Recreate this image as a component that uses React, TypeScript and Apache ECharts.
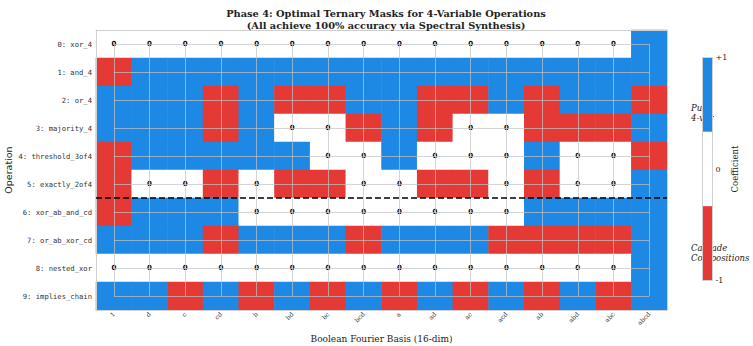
import React, { useEffect, useRef } from 'react';
import * as echarts from 'echarts';

const operations = [
  '0: xor_4',
  '1: and_4',
  '2: or_4',
  '3: majority_4',
  '4: threshold_3of4',
  '5: exactly_2of4',
  '6: xor_ab_and_cd',
  '7: or_ab_xor_cd',
  '8: nested_xor',
  '9: implies_chain',
];

const basis = ['1', 'd', 'c', 'cd', 'b', 'bd', 'bc', 'bcd', 'a', 'ad', 'ac', 'acd', 'ab', 'abd', 'abc', 'abcd'];

const xor4 = [0, 0, 0, 0, 0, 0, 0, 0, 0, 0, 0, 0, 0, 0, 0, 1];
const and4 = [-1, 1, 1, 1, 1, 1, 1, 1, 1, 1, 1, 1, 1, 1, 1, 1];
const or4 = [1, 1, 1, -1, 1, -1, -1, 1, 1, -1, -1, 1, -1, 1, 1, -1];
const majority4 = [1, 1, 1, -1, 1, 0, 0, -1, 1, -1, 0, 0, -1, -1, -1, 1];
const threshold3of4 = [-1, 1, 1, 1, 1, 1, 0, 0, 1, 0, 0, 0, 1, 0, 0, -1];
const exactly2of4 = [-1, 0, 0, -1, 0, -1, -1, 0, 0, -1, -1, 0, -1, 0, 0, 1];
const xorAbAndCd = [-1, 1, 1, 1, 0, 0, 0, 0, 0, 0, 0, 0, 1, 1, 1, 1];
const orAbXorCd = [1, 1, 1, -1, 1, 1, 1, -1, 1, 1, 1, -1, -1, -1, -1, 1];
const nestedXor = [0, 0, 0, 0, 0, 0, 0, 0, 0, 0, 0, 0, 0, 0, 0, 1];
const impliesChain = [1, 1, -1, 1, -1, 1, -1, 1, -1, 1, -1, 1, -1, 1, -1, 1];

const masks = [xor4, and4, or4, majority4, threshold3of4, exactly2of4, xorAbAndCd, orAbXorCd, nestedXor, impliesChain];

const separatorAfterRow = 5.5;
const colorbarTicks = ['+1', '0', '-1'];

const titleText = 'Phase 4: Optimal Ternary Masks for 4-Variable Operations\n(All achieve 100% accuracy via Spectral Synthesis)';

const BLUE = '#1E88E5';
const RED = '#E53935';

export default function App() {
  const ref = useRef<HTMLDivElement>(null);

  useEffect(() => {
    const chart = echarts.init(ref.current!, null, { renderer: 'svg' });
    const data: number[][] = [];
    masks.forEach((row, r) => row.forEach((v, c) => data.push([c, r, v])));

    const L = 96, R = 667, T = 30, B = 310;
    const W = 753, H = 346;
    const cw = (R - L) / basis.length;
    const ch = (B - T) / operations.length;

    const cbX = 702.5, cbY = 57.5, cbW = 10, cbH = 223;
    const frame = '#d0d0d0';
    const serif = 'DejaVu Serif';
    const gridColor = 'rgba(195,195,195,0.7)';

    const hiddenValueAxis = (gridIndex: number, extra: any) => ({
      type: 'value',
      gridIndex,
      axisLine: { show: false },
      axisTick: { show: false },
      axisLabel: { show: false },
      splitLine: { show: false },
      ...extra,
    });

    chart.setOption({
      animation: false,
      title: {
        text: titleText,
        left: 381,
        textAlign: 'center',
        top: 2,
        textStyle: { fontFamily: serif, fontWeight: 'bold', fontSize: 9.8, lineHeight: 12, color: '#222' },
      },
      grid: [
        { left: L, right: W - R, top: T, bottom: H - B, containLabel: false, outerBoundsMode: 'none' },
        {
          left: L + cw / 2,
          right: W - R + cw / 2,
          top: T + ch / 2,
          bottom: H - B + ch / 2,
          containLabel: false,
          outerBoundsMode: 'none',
        },
        { left: L, right: W - R, top: T, bottom: H - B, containLabel: false, outerBoundsMode: 'none' },
      ],
      visualMap: {
        show: false,
        type: 'piecewise',
        dimension: 2,
        seriesIndex: 0,
        pieces: [
          { value: -1, color: RED },
          { value: 0, color: '#ffffff' },
          { value: 1, color: BLUE },
        ],
      },
      xAxis: [
        {
          type: 'category',
          data: basis,
          gridIndex: 0,
          position: 'bottom',
          z: 5,
          axisLine: { show: true, lineStyle: { color: frame, width: 1 } },
          axisTick: { show: false },
          splitLine: { show: false },
          axisLabel: { rotate: 45, fontSize: 6.3, fontFamily: serif, color: '#333', margin: 3, interval: 0 },
          name: 'Boolean Fourier Basis (16-dim)',
          nameLocation: 'middle',
          nameGap: 24,
          nameMoveOverlap: false,
          nameTextStyle: { fontFamily: serif, fontSize: 9, color: '#222' },
        },
        {
          type: 'category',
          data: basis,
          gridIndex: 0,
          position: 'top',
          z: 5,
          axisLine: { show: true, lineStyle: { color: frame, width: 1 } },
          axisTick: { show: false },
          axisLabel: { show: false },
          splitLine: { show: false },
        },
        hiddenValueAxis(1, {
          min: 0,
          max: basis.length - 1,
          interval: 1,
          z: 3,
          splitLine: { show: true, lineStyle: { color: gridColor, width: 1 } },
        }),
        hiddenValueAxis(2, { min: -0.5, max: basis.length - 0.5 }),
      ],
      yAxis: [
        {
          type: 'category',
          data: operations,
          inverse: true,
          gridIndex: 0,
          position: 'left',
          z: 5,
          axisLine: { show: true, lineStyle: { color: frame, width: 1 } },
          axisTick: { show: false },
          splitLine: { show: false },
          axisLabel: { fontFamily: 'DejaVu Sans Mono', fontSize: 7.2, color: '#333', margin: 4 },
          name: 'Operation',
          nameLocation: 'middle',
          nameGap: 83,
          nameRotate: 90,
          nameMoveOverlap: false,
          nameTextStyle: { fontFamily: 'DejaVu Sans', fontSize: 9.5, color: '#222' },
        },
        {
          type: 'category',
          data: operations,
          inverse: true,
          gridIndex: 0,
          position: 'right',
          z: 5,
          axisLine: { show: true, lineStyle: { color: frame, width: 1 } },
          axisTick: { show: false },
          axisLabel: { show: false },
          splitLine: { show: false },
        },
        hiddenValueAxis(1, {
          min: 0,
          max: operations.length - 1,
          interval: 1,
          inverse: true,
          z: 3,
          splitLine: { show: true, lineStyle: { color: gridColor, width: 1 } },
        }),
        hiddenValueAxis(2, { min: -0.5, max: operations.length - 0.5, inverse: true }),
      ],
      series: [
        {
          type: 'heatmap',
          xAxisIndex: 0,
          yAxisIndex: 0,
          data,
          z: 2,
          itemStyle: { borderWidth: 0 },
          label: {
            show: true,
            formatter: (p: any) => (p.value[2] === 0 ? '0' : ''),
            fontSize: 7,
            fontWeight: 'bold',
            fontFamily: 'DejaVu Sans',
            color: '#000',
          },
          emphasis: { disabled: true },
        },
        {
          type: 'line',
          xAxisIndex: 3,
          yAxisIndex: 3,
          data: [
            [-0.5, separatorAfterRow],
            [basis.length - 0.5, separatorAfterRow],
          ],
          symbol: 'none',
          z: 6,
          lineStyle: { color: '#000', width: 1.6, type: [6, 3] },
        },
      ],
      graphic: [
        {
          type: 'text',
          z: 1,
          left: 691,
          top: 103,
          style: { text: 'Pure\n4-var', font: 'italic 8.5px "DejaVu Serif"', fill: '#222', lineHeight: 10 },
        },
        {
          type: 'text',
          z: 1,
          left: 691,
          top: 243,
          style: { text: 'Cascade\nCompositions', font: 'italic 8.5px "DejaVu Serif"', fill: '#222', lineHeight: 10 },
        },
        {
          type: 'rect',
          z: 10,
          shape: { x: cbX, y: cbY, width: cbW, height: cbH / 3 },
          style: { fill: BLUE },
        },
        {
          type: 'rect',
          z: 10,
          shape: { x: cbX, y: cbY + cbH / 3, width: cbW, height: cbH / 3 },
          style: { fill: '#ffffff' },
        },
        {
          type: 'rect',
          z: 10,
          shape: { x: cbX, y: cbY + (2 * cbH) / 3, width: cbW, height: cbH / 3 },
          style: { fill: RED },
        },
        {
          type: 'rect',
          z: 11,
          shape: { x: cbX, y: cbY, width: cbW, height: cbH },
          style: { fill: 'none', stroke: frame, lineWidth: 1 },
        },
        ...colorbarTicks.map((t, i) => ({
          type: 'text',
          z: 11,
          x: cbX + cbW + 3,
          y: cbY + (i * cbH) / 2,
          style: { text: t, font: '8px "DejaVu Serif"', fill: '#222', verticalAlign: 'middle' },
        })),
        {
          type: 'text',
          z: 11,
          x: 735,
          y: cbY + cbH / 2,
          rotation: Math.PI / 2,
          style: { text: 'Coefficient', font: '8.5px "DejaVu Serif"', fill: '#222', align: 'center', verticalAlign: 'middle' },
        },
      ],
    });

    return () => chart.dispose();
  }, []);

  return <div ref={ref} style={{ position: 'absolute', left: 0, top: 0, width: 753, height: 346 }} />;
}
